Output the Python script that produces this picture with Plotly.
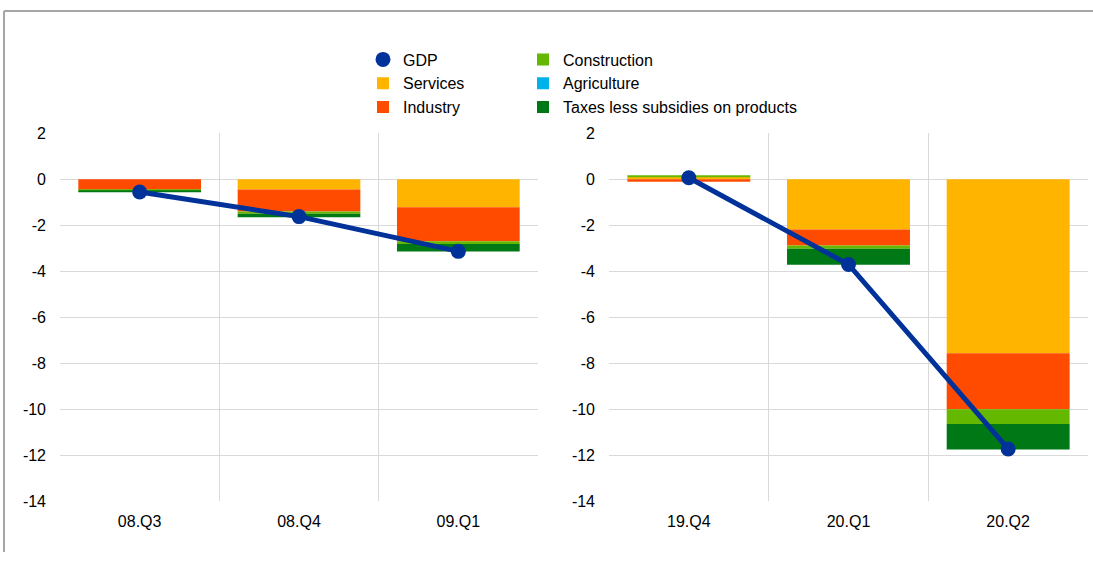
"""Euro area GDP growth and contributions by sector - two crisis episodes."""

import plotly.graph_objects as go

# ── data ─────────────────────────────────────────────────────────────

quarters_gfc = ["08.Q3", "08.Q4", "09.Q1"]
quarters_covid = ["19.Q4", "20.Q1", "20.Q2"]

gdp_gfc = [-0.55, -1.62, -3.13]
services_gfc = [0.0, -0.44, -1.21]
industry_gfc = [-0.45, -0.96, -1.48]
construction_gfc = [-0.04, -0.10, -0.12]
agriculture_gfc = [0.0, 0.0, 0.0]
taxes_gfc = [-0.06, -0.15, -0.33]

gdp_covid = [0.07, -3.70, -11.72]
services_covid = [0.10, -2.18, -7.56]
industry_covid = [-0.10, -0.70, -2.44]
construction_covid = [0.07, -0.14, -0.64]
agriculture_covid = [0.0, 0.0, 0.0]
taxes_covid = [0.0, -0.69, -1.11]

y_ticks = [2, 0, -2, -4, -6, -8, -10, -12, -14]

# ── style ────────────────────────────────────────────────────────────

COLORS = {
    "gdp": "#003299",
    "services": "#FFB400",
    "industry": "#FF4B00",
    "construction": "#65B800",
    "agriculture": "#00B1EA",
    "taxes": "#007816",
    "grid": "#d9d9d9",
    "frame": "#a6a6a6",
}
FONT = "Liberation Sans, Arial, sans-serif"

# ── chart ────────────────────────────────────────────────────────────

components = [
    ("Services", "services", services_gfc, services_covid, "legend", 2),
    ("Industry", "industry", industry_gfc, industry_covid, "legend", 3),
    ("Construction", "construction", construction_gfc, construction_covid, "legend2", 1),
    ("Agriculture", "agriculture", agriculture_gfc, agriculture_covid, "legend2", 2),
    ("Taxes less subsidies on products", "taxes", taxes_gfc, taxes_covid, "legend2", 3),
]

fig = go.Figure()

for name, key, left, right, legend, rank in components:
    for i, (x, y) in enumerate([(quarters_gfc, left), (quarters_covid, right)]):
        fig.add_trace(
            go.Bar(
                x=x,
                y=y,
                name=name,
                legendgroup=key,
                legend=legend,
                legendrank=rank,
                showlegend=i == 0,
                marker={"color": COLORS[key], "line": {"width": 0}},
                xaxis="x" if i == 0 else "x2",
                yaxis="y" if i == 0 else "y2",
            )
        )

for i, (x, y) in enumerate([(quarters_gfc, gdp_gfc), (quarters_covid, gdp_covid)]):
    ax = "x" if i == 0 else "x2"
    ay = "y" if i == 0 else "y2"
    fig.add_trace(
        go.Scatter(
            x=x, y=y, mode="lines", showlegend=False, legendgroup="gdp",
            line={"color": COLORS["gdp"], "width": 5}, xaxis=ax, yaxis=ay,
        )
    )
    fig.add_trace(
        go.Scatter(
            x=x, y=y, mode="markers", name="GDP", legendgroup="gdp",
            legend="legend", legendrank=1, showlegend=i == 0,
            marker={"color": COLORS["gdp"], "size": 15}, xaxis=ax, yaxis=ay,
        )
    )

W, H = 1093, 561
# the photographed page ends up slightly squeezed and shifted vertically
SCALE, SHIFT = 0.967, 8.0


def py(y_px):
    """Target pixel row in the final picture -> paper fraction."""
    y_fig = (y_px - SHIFT) / SCALE
    return (H - y_fig) / H


y_dom = [py(500), py(133)]

xaxis_common = dict(
    type="category",
    range=[-0.5, 2.5],
    tickson="boundaries",
    ticks="",
    showgrid=True,
    gridcolor=COLORS["grid"],
    gridwidth=1,
    showline=False,
    zeroline=False,
    ticklabelstandoff=9,
    tickfont={"size": 16, "color": "#000000"},
    fixedrange=True,
)
yaxis_common = dict(
    range=[-14, 2],
    tickvals=y_ticks,
    ticktext=[str(v) for v in y_ticks],
    ticks="",
    showgrid=True,
    gridcolor=COLORS["grid"],
    gridwidth=1,
    zeroline=False,
    showline=False,
    ticklabelstandoff=13,
    tickfont={"size": 16, "color": "#000000"},
    domain=y_dom,
    fixedrange=True,
)

legend_common = dict(
    orientation="v",
    xanchor="left",
    yanchor="top",
    y=py(42.4),
    bgcolor="rgba(0,0,0,0)",
    font={"size": 16, "color": "#000000"},
    traceorder="normal",
    itemclick=False,
)

fig.update_layout(
    width=W,
    height=H,
    margin={"l": 0, "r": 0, "t": 0, "b": 0},
    paper_bgcolor="white",
    plot_bgcolor="white",
    font={"family": FONT, "size": 16, "color": "#000000"},
    barmode="relative",
    bargap=0.23,
    xaxis={**xaxis_common, "domain": [60 / W, 538 / W], "anchor": "y"},
    yaxis={**yaxis_common, "anchor": "x"},
    xaxis2={**xaxis_common, "domain": [609 / W, 1088 / W], "anchor": "y2"},
    yaxis2={**yaxis_common, "anchor": "x2"},
    legend={**legend_common, "x": 363 / W},
    legend2={**legend_common, "x": 523 / W},
    shapes=[
        dict(type="line", xref="paper", yref="paper", x0=4 / W, x1=1, y0=py(11), y1=py(11),
             line={"color": COLORS["frame"], "width": 2}),
        dict(type="line", xref="paper", yref="paper", x0=4 / W, x1=4 / W, y0=0, y1=py(11),
             line={"color": COLORS["frame"], "width": 2}),
    ],
)

fig.write_html(
    "out.html",
    config={"displayModeBar": False},
    post_script="document.body.style.margin='0';document.body.style.overflow='hidden';",
)
